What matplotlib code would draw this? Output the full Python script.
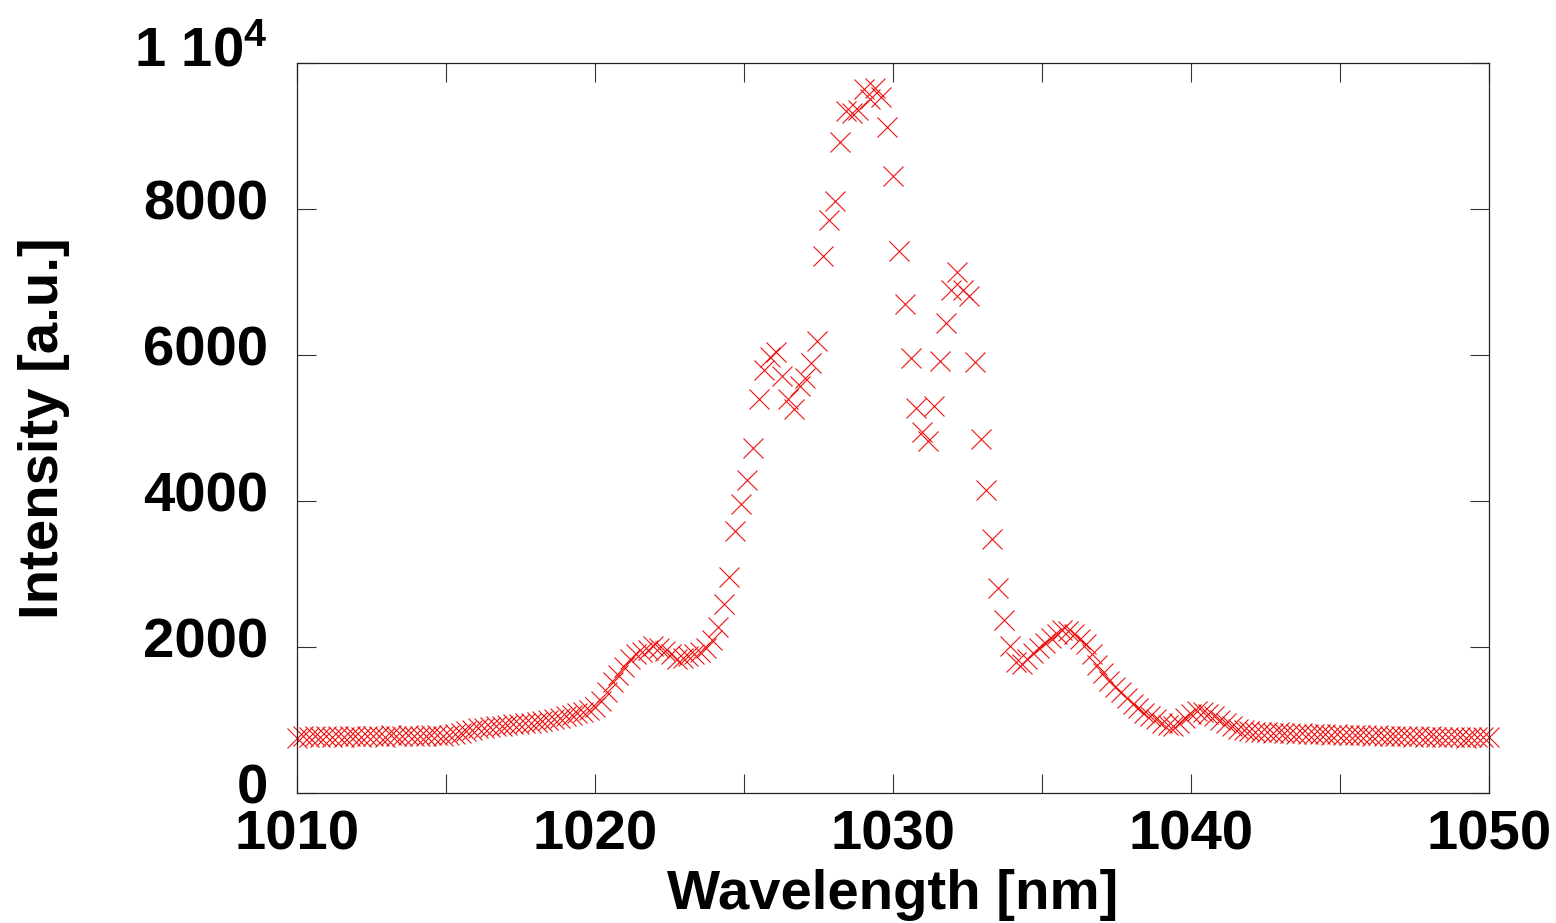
"""
Emission spectrum: intensity vs wavelength, shown as red cross markers.
"""
import numpy as np
import matplotlib
matplotlib.use("Agg")
import matplotlib.pyplot as plt
import matplotlib.transforms as mtransforms
from matplotlib.ticker import MultipleLocator

plt.rcParams["font.family"] = ["Liberation Sans", "DejaVu Sans"]
plt.rcParams["font.weight"] = "bold"
plt.rcParams["mathtext.fontset"] = "custom"
plt.rcParams["mathtext.rm"] = "Liberation Sans:bold"
plt.rcParams["mathtext.bf"] = "Liberation Sans:bold"
plt.rcParams["mathtext.default"] = "bf"

# Spectrometer samples evenly spaced from 1010 to 1050 nm
wavelength = np.linspace(1010, 1050, 205)

intensity_flat_left = [
    760, 775, 765, 780, 770, 775, 765, 785, 770, 780,
    775, 770, 785, 775, 780, 770, 790, 780, 775, 790,
    780, 785, 775, 795, 790, 785, 800, 805,
]
intensity_shoulder = [
    820, 850, 870, 885, 895, 905, 915, 925, 930, 940,
    950, 955, 965, 975, 985, 1000, 1010, 1030, 1050, 1070,
    1090, 1110, 1140, 1180, 1260, 1380, 1520, 1620, 1730, 1830,
    1900, 1930, 1960, 2010, 1990, 1950, 1900, 1840, 1850, 1880,
    1900, 1930, 1990, 2100,
]
intensity_peak = [
    2279, 2589, 2963, 3593, 3959, 4288, 4730, 5397, 5795, 5977,
    6045, 5712, 5397, 5256, 5575, 5689, 5886, 6190, 7356, 7849,
    8114, 8922, 9347, 9310, 9356, 9640, 9503, 9653, 9530, 9128,
    8452, 7425, 6699, 5963, 5270, 4941, 4822, 5301, 5918, 6443,
    6890, 7133, 6890, 6812, 5900, 4849, 4150, 3479, 2804, 2370,
    2018,
]
intensity_tail = [
    1790, 1770, 1840, 1920, 1990, 2060, 2120, 2180, 2230, 2220,
    2180, 2110, 2040, 1900, 1750, 1640, 1540, 1450, 1380, 1300,
    1220, 1160, 1100, 1060, 1010, 960, 930, 920, 960, 1030,
    1080, 1120, 1110, 1080, 1050, 1000, 960, 920, 880, 860,
    850, 840,
]
intensity_flat_right = [
    835, 830, 825, 830, 820, 825, 815, 820, 810, 815,
    805, 810, 800, 805, 795, 800, 790, 795, 790, 785,
    790, 780, 785, 780, 775, 780, 770, 775, 770, 775,
    765, 770, 770, 765, 770, 760, 765, 770, 765, 770,
]

intensity = (intensity_flat_left + intensity_shoulder + intensity_peak
             + intensity_tail + intensity_flat_right)
assert len(intensity) == len(wavelength)

y_ticks = [0, 2000, 4000, 6000, 8000, 10000]
y_tick_labels = ["0", "2000", "4000", "6000", "8000", r"1 10$^{4}$"]
x_ticks = [1010, 1020, 1030, 1040, 1050]


def main() -> None:
    fig = plt.figure(figsize=(15.56, 9.23), dpi=100)
    ax = fig.add_axes([0.1909, 0.1408, 0.766, 0.7909])

    ax.plot(wavelength, intensity, linestyle="none", marker="x",
            markersize=14, markeredgewidth=0.8, color="#ee1111", clip_on=False)

    ax.set_xlim(1010, 1050)
    ax.set_ylim(0, 10000)
    ax.set_xticks(x_ticks)
    ax.xaxis.set_minor_locator(MultipleLocator(5))
    ax.set_yticks(y_ticks)
    ax.set_yticklabels(y_tick_labels)

    ax.tick_params(which="both", direction="in", length=14, width=0.8,
                   color="#333333", top=True, right=True, labelsize=40.5)
    ax.tick_params(axis="x", pad=12)
    ax.tick_params(axis="y", pad=21)
    for lbl in ax.get_xticklabels() + ax.get_yticklabels():
        lbl.set_fontweight("bold")

    # y labels sit a little above their ticks in the reference
    lift = mtransforms.ScaledTranslation(0, 7 / 72, fig.dpi_scale_trans)
    for lbl in ax.get_yticklabels():
        lbl.set_transform(lbl.get_transform() + lift)
    top = ax.get_yticklabels()[-1]
    top.set_transform(top.get_transform()
                      + mtransforms.ScaledTranslation(0, 5 / 72, fig.dpi_scale_trans))

    for side in ("left", "bottom", "top", "right"):
        ax.spines[side].set_linewidth(0.9)
        ax.spines[side].set_color("#222222")

    ax.set_xlabel("Wavelength [nm]", fontsize=40.5, fontweight="bold", labelpad=5)
    ax.set_ylabel("Intensity [a.u.]", fontsize=40.5, fontweight="bold", labelpad=46)

    fig.savefig("out.png", dpi=100)
    plt.close(fig)


if __name__ == "__main__":
    main()
